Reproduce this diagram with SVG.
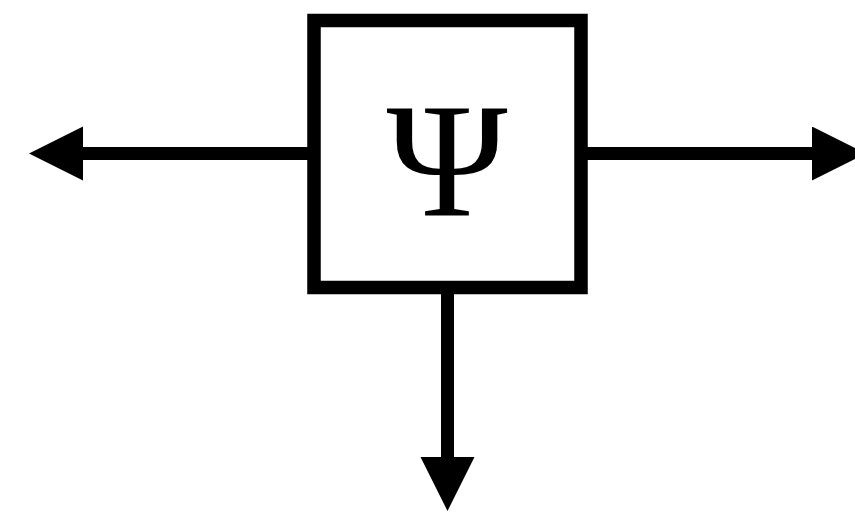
<svg xmlns="http://www.w3.org/2000/svg" width="855" height="514" viewBox="0 0 855 514">
<style>
.edge{stroke:#000;stroke-width:13;fill:none}
.box{fill:#fff;stroke:#000;stroke-width:13.5}
.lbl{font-family:"Liberation Serif","Times New Roman",serif;font-size:164px;fill:#000;text-anchor:middle}
</style>
<defs>
<marker id="ah" markerUnits="userSpaceOnUse" markerWidth="56" markerHeight="56" refX="1" refY="27" orient="auto">
<path d="M0,0 L54,27 L0,54 Z" fill="#000"/>
</marker>
</defs>
<rect width="855" height="514" fill="#fff"/>
<g id="connectors">
<path class="edge" d="M308,153.5 L82,153.5" marker-end="url(#ah)"/>
<path class="edge" d="M587,153.5 L813,153.5" marker-end="url(#ah)"/>
<path class="edge" d="M447.5,294 L447.5,458" marker-end="url(#ah)"/>
</g>
<g id="psi">
<rect class="box" x="314" y="20.5" width="267" height="267"/>
<text class="lbl" x="447" y="215">Ψ</text>
</g>
</svg>
